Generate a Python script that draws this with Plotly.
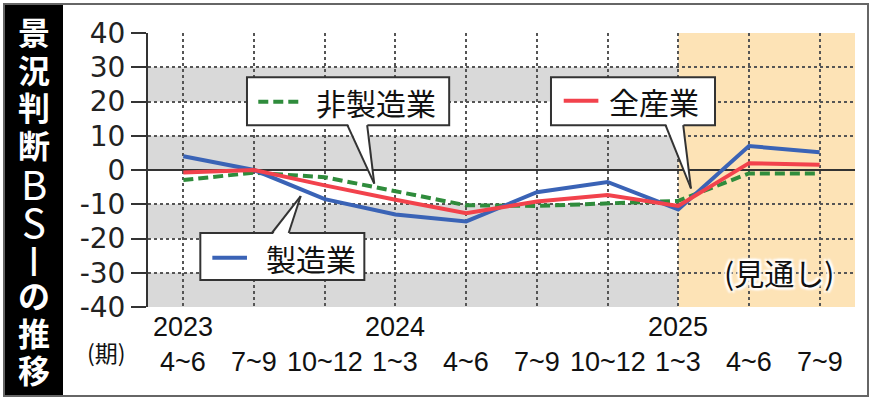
import plotly.graph_objects as go

# ---------------- data ----------------
quarters = ["4~6", "7~9", "10~12", "1~3", "4~6", "7~9", "10~12", "1~3", "4~6", "7~9"]
years = ["2023", "", "", "2024", "", "", "", "2025", "", ""]
manufacturing = [4, 0, -8.5, -13, -15, -6.5, -3.5, -11.5, 7, 5.2]        # 製造業
all_industries = [-0.7, 0, -4.5, -8.7, -12.6, -9.2, -7.3, -10.5, 2, 1.5]  # 全産業
non_manufacturing = [-2.9, -0.8, -2.1, -6.3, -10.3, -10.5, -9.7, -9, -1, -1]  # 非製造業
y_ticks = [40, 30, 20, 10, 0, -10, -20, -30, -40]
y_tick_labels = ["40", "30", "20", "10", "0", "-10", "-20", "-30", "-40"]
title_chars = ["景", "況", "判", "断", "B", "S", "I", "の", "推", "移"]

x = list(range(len(quarters)))

# ---------------- layout constants ----------------
W, H = 873, 400
L, R, T, B = 148, 18, 33, 93
PW, PH = W - L - R, H - T - B

def pxx(px):
    return (px - L) / PW

def pyy(py):
    return (H - B - py) / PH

CJK = "Noto Sans CJK JP"
NUM = "DejaVu Sans"
LAT = "Liberation Sans, Arial, sans-serif"

BLUE = "#3a63b6"
RED = "#f2424c"
GREEN = "#2f8c3c"
EDGE = "#333333"

fig = go.Figure()

fig.add_trace(go.Scatter(x=x, y=non_manufacturing, mode="lines", name="非製造業",
                         line=dict(color=GREEN, width=4, dash="10px,5px")))
fig.add_trace(go.Scatter(x=x, y=manufacturing, mode="lines", name="製造業",
                         line=dict(color=BLUE, width=4)))
fig.add_trace(go.Scatter(x=x, y=all_industries, mode="lines", name="全産業",
                         line=dict(color=RED, width=4)))

shapes = []
# gray bands
for y0, y1 in [(20, 30), (0, 10), (-20, -10), (-40, -30)]:
    shapes.append(dict(type="rect", xref="x", yref="y", x0=-0.5, x1=7, y0=y0, y1=y1,
                       fillcolor="#d9d9d9", line=dict(width=0), layer="below"))
# forecast region
shapes.append(dict(type="rect", xref="x", yref="y", x0=7, x1=9.5, y0=-40, y1=40,
                   fillcolor="#fde3b6", line=dict(width=0), layer="below"))

# black title band and outer frame
shapes.append(dict(type="rect", xref="paper", yref="paper",
                   x0=pxx(5), x1=pxx(63), y0=pyy(397), y1=pyy(5),
                   fillcolor="black", line=dict(width=0), layer="above"))
shapes.append(dict(type="rect", xref="paper", yref="paper",
                   x0=pxx(4), x1=pxx(868), y0=pyy(396), y1=pyy(4),
                   fillcolor="rgba(0,0,0,0)", line=dict(color="#666666", width=2), layer="above"))

annotations = []

def callout(bx, by, wedge, tip, sample, sample_color, sample_dash, text, tx):
    (x0, x1), (y0, y1) = bx, by
    (wx0, wx1), wy = wedge
    tipx, tipy = tip
    inside = wy + (0.8 if wy == y0 else -0.8)
    shapes.append(dict(type="rect", xref="x", yref="y", x0=x0, x1=x1, y0=y0, y1=y1,
                       fillcolor="white", line=dict(color=EDGE, width=2), layer="above"))
    shapes.append(dict(type="path", xref="x", yref="y",
                       path=f"M {wx0},{inside} L {tipx},{tipy} L {wx1},{inside} Z",
                       fillcolor="white", line=dict(width=0), layer="above"))
    shapes.append(dict(type="line", xref="x", yref="y", x0=wx0, y0=wy, x1=tipx, y1=tipy,
                       line=dict(color=EDGE, width=2), layer="above"))
    shapes.append(dict(type="line", xref="x", yref="y", x0=wx1, y0=wy, x1=tipx, y1=tipy,
                       line=dict(color=EDGE, width=2), layer="above"))
    (sx0, sx1), sy = sample
    shapes.append(dict(type="line", xref="x", yref="y", x0=sx0, y0=sy, x1=sx1, y1=sy,
                       line=dict(color=sample_color, width=4, dash=sample_dash), layer="above"))
    annotations.append(dict(x=tx, y=sy, xref="x", yref="y", text=text, showarrow=False,
                            font=dict(family=CJK, size=30, color="#111111"),
                            xanchor="center", yanchor="middle"))

# 非製造業
callout((0.90, 3.76), (13.1, 27.1), ((2.32, 2.60), 13.1), (2.70, -4.0),
        ((1.06, 1.65), 19.9), GREEN, "10px,5px", "非製造業", 2.72)
# 製造業
callout((0.24, 2.56), (-32.1, -18.4), ((1.25, 1.49), -18.4), (1.66, -7.6),
        ((0.41, 0.90), -25.6), BLUE, None, "製造業", 1.80)
# 全産業
callout((5.20, 7.52), (13.1, 27.1), ((6.82, 7.07), 13.1), (7.18, -5.4),
        ((5.38, 5.87), 20.2), RED, None, "全産業", 6.66)

# forecast label
annotations.append(dict(x=8.42, y=-29.7, xref="x", yref="y", text="(見通し)", showarrow=False,
                        font=dict(family=CJK, size=30, color="#111111",
                                  shadow="2px 2px 2px white, -2px -2px 2px white, 2px -2px 2px white, -2px 2px 2px white, 0 0 4px white"),
                        xanchor="center", yanchor="middle"))

# vertical title, one character per slot
for i, ch in enumerate(title_chars):
    cy = 31 + i * 37.6
    latin = ch.isascii()
    annotations.append(dict(x=pxx(34), y=pyy(cy + (2 if latin else 0)), xref="paper", yref="paper",
                            text=ch, showarrow=False,
                            font=dict(family=CJK, size=40 if latin else 32, color="white",
                                      weight="normal" if latin else "bold"),
                            xanchor="center", yanchor="middle"))

# x labels
for i, (q, yr) in enumerate(zip(quarters, years)):
    annotations.append(dict(x=i, y=pyy(362), xref="x", yref="paper", text=q, showarrow=False,
                            font=dict(family=LAT, size=27, color="#111111"),
                            xanchor="center", yanchor="middle"))
    if yr:
        annotations.append(dict(x=i, y=pyy(327), xref="x", yref="paper", text=yr, showarrow=False,
                                font=dict(family=LAT, size=27, color="#111111"),
                                xanchor="center", yanchor="middle"))
annotations.append(dict(x=pxx(106), y=pyy(352), xref="paper", yref="paper", text="(期)",
                        showarrow=False, font=dict(family=CJK, size=23, color="#111111"),
                        xanchor="center", yanchor="middle"))

fig.update_layout(
    width=W, height=H,
    margin=dict(l=L, r=R, t=T, b=B, pad=0),
    paper_bgcolor="white", plot_bgcolor="white",
    showlegend=False,
    shapes=shapes, annotations=annotations,
    xaxis=dict(range=[-0.5, 9.5], tickvals=x, showticklabels=False, ticks="",
               showgrid=True, gridcolor="#555555", griddash="dot", gridwidth=1.5,
               zeroline=False, showline=False, fixedrange=True),
    yaxis=dict(range=[-40, 40], tickvals=y_ticks, ticktext=y_tick_labels, showgrid=True,
               gridcolor="#555555", griddash="dot", gridwidth=1.5, zeroline=True,
               zerolinecolor="#333333", zerolinewidth=2, showline=True, linecolor="#333333",
               linewidth=2, ticks="outside", ticklen=15, tickwidth=2, tickcolor="#333333",
               tickfont=dict(family=NUM, size=28, color="#222222"), fixedrange=True),
)

fig.write_html("out.html", config={"displayModeBar": False},
               post_script="document.body.style.margin='0px';document.body.style.overflow='hidden';")
